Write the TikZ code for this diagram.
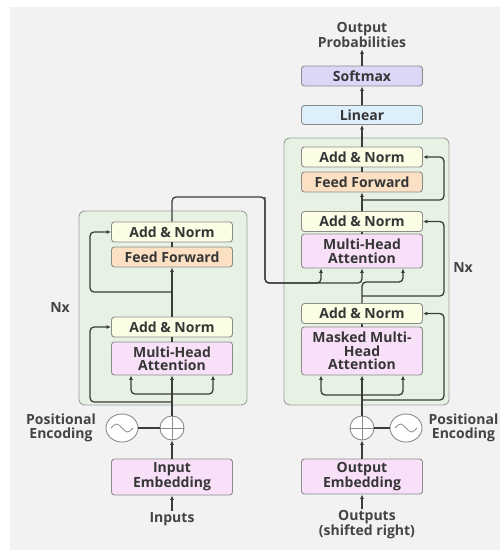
\documentclass[tikz,border=0pt]{standalone}
\usepackage{fontspec}
\setmainfont{Open Sans}
\usetikzlibrary{arrows.meta,shapes.geometric,calc}
\definecolor{bgc}{HTML}{F2F2F2}
\definecolor{grpf}{HTML}{E8F2E4}
\definecolor{grpd}{HTML}{9AA49A}
\definecolor{boxb}{HTML}{8C8C8C}
\definecolor{anf}{HTML}{FBFDE4}
\definecolor{fff}{HTML}{FBE0C4}
\definecolor{mhf}{HTML}{F7E0F8}
\definecolor{linf}{HTML}{DCEFFB}
\definecolor{smf}{HTML}{DDD6F7}
\definecolor{txt}{HTML}{363636}
\definecolor{lblc}{HTML}{444444}
\definecolor{lnc}{HTML}{3A3E3A}
\begin{document}
\begin{tikzpicture}[x=1pt,y=-1pt,
  blk/.style={draw=boxb, rounded corners=3pt, line width=0.9pt, minimum width=121pt, inner sep=0pt, align=center, font=\fontsize{14}{13.5}\selectfont\bfseries, text=txt},
  an/.style={blk, fill=anf, minimum height=20pt},
  ffb/.style={blk, fill=fff, minimum height=20pt},
  mh/.style={blk, fill=mhf},
  grp/.style={draw=grpd, fill=grpf, rounded corners=6pt, line width=0.9pt},
  arr/.style={-{Latex[length=4.5pt,width=4pt]}, draw=lnc, line width=1.3pt},
  ln/.style={draw=lnc, line width=1.3pt},
  rc/.style={rounded corners=4pt},
  lbl/.style={font=\fontsize{14}{13.5}\selectfont\bfseries, text=lblc, align=center, inner sep=1.5pt},
  plusc/.style={circle, draw=boxb, fill=white, line width=0.9pt, minimum size=24pt, inner sep=0pt},
  sinc/.style={ellipse, draw=boxb, fill=white, line width=0.9pt, minimum width=32pt, minimum height=28pt, inner sep=0pt},
]
\useasboundingbox (0,0) rectangle (500,550);
\fill[white] (0,0) rectangle (500,550);
\fill[bgc] (10,7) rectangle (500,550);

% groups
\draw[grp] (79,211) rectangle (247,405);
\draw[grp] (284,138) rectangle (449,405);

% encoder
\node[an] (eAN2) at (172,232) {Add \& Norm};
\node[ffb] (eFF) at (172,257) {Feed Forward};
\node[an] (eAN1) at (172,327) {Add \& Norm};
\node[mh, minimum height=33pt] (eMHA) at (172,358.5) {Multi-Head\\Attention};
\node[mh, minimum height=36pt] (eEmb) at (172,477) {Input\\Embedding};
\node[plusc] (ePlus) at (172,428) {};
\node[sinc] (eSin) at (122,428) {};
\node[lbl] (inputs) at (172,519) {Inputs};
\node[lbl] (ePE) at (61,428) {Positional\\Encoding};
\node[lbl] (eNx) at (60,307) {Nx};

% decoder
\node[an] (dAN3) at (362,157) {Add \& Norm};
\node[ffb] (dFF) at (362,182) {Feed Forward};
\node[an] (dAN2) at (362,221.5) {Add \& Norm};
\node[mh, minimum height=34pt] (dMHA) at (362,251) {Multi-Head\\Attention};
\node[an] (dAN1) at (362,313.5) {Add \& Norm};
\node[mh, minimum height=48pt] (dMMHA) at (362,351) {Masked Multi-\\Head\\Attention};
\node[mh, minimum height=35pt] (dEmb) at (362,476.5) {Output\\Embedding};
\node[plusc] (dPlus) at (362,428) {};
\node[sinc] (dSin) at (406,428) {};
\node[lbl] (outputs) at (367,525) {Outputs\\(shifted right)};
\node[lbl, anchor=west] (dPE) at (427,428) {Positional\\Encoding};
\node[lbl] (dNx) at (463,267) {Nx};

% top
\node[blk, fill=linf, minimum height=19pt] (lin) at (362,115) {Linear};
\node[blk, fill=smf, minimum height=20pt] (soft) at (362,76) {Softmax};
\node[lbl] (prob) at (362,35) {Output\\Probabilities};

% plus and sine symbols
\foreach \p in {ePlus,dPlus}{
  \draw[boxb, line width=0.9pt] (\p.north) -- (\p.south) (\p.west) -- (\p.east);
}
\foreach \s in {eSin,dSin}{
  \draw[boxb, line width=0.8pt] ($(\s.center)+(-11,0)$) sin ($(\s.center)+(-5.5,-4)$) cos (\s.center) sin ($(\s.center)+(5.5,4)$) cos ($(\s.center)+(11,0)$);
}

% coordinates
\coordinate (eIn) at (172,394);
\coordinate (eOut) at (172,402);
\coordinate (eRes2) at (172,292);
\coordinate (cA) at (265,197);
\coordinate (cB) at (265,283);
\coordinate (dIn) at (362,395);
\coordinate (dOut) at (362,400);
\coordinate (dQ) at (403,282);
\coordinate (dRes2) at (362,296);
\coordinate (dRes3) at (362,200);

% encoder connectors
\draw[arr] (inputs.north) -- (eEmb.south);
\draw[arr] (eEmb.north) -- (ePlus.south);
\draw[ln] (eSin.east) -- (ePlus.west);
\draw[arr] (ePlus.north) -- (eMHA.south);
\draw[arr,rc] (eIn) -| ([xshift=-41pt]eMHA.south);
\draw[arr,rc] (eIn) -| ([xshift=41pt]eMHA.south);
\draw[arr,rc] (eOut) -| ($(eAN1.west)+(-21,0)$) -- (eAN1.west);
\draw[ln] (eMHA.north) -- (eAN1.south);
\draw[arr] (eAN1.north) -- (eFF.south);
\draw[arr,rc] (eRes2) -| ($(eAN2.west)+(-21,0)$) -- (eAN2.west);
\draw[ln] (eFF.north) -- (eAN2.south);

% encoder to decoder
\draw[arr,rc] (eAN2.north) |- (cA) -- (cB) -| ([xshift=-41pt]dMHA.south);
\draw[arr,rc] (cA) -- (cB) -| (dMHA.south);

% decoder connectors
\draw[arr] (outputs.north -| dEmb.south) -- (dEmb.south);
\draw[arr] (dEmb.north) -- (dPlus.south);
\draw[ln] (dSin.west) -- (dPlus.east);
\draw[arr] (dPlus.north) -- (dMMHA.south);
\draw[arr,rc] (dIn) -| ([xshift=-41pt]dMMHA.south);
\draw[arr,rc] (dIn) -| ([xshift=41pt]dMMHA.south);
\draw[arr,rc] (dOut) -| ($(dAN1.east)+(21,0)$) -- (dAN1.east);
\draw[ln] (dMMHA.north) -- (dAN1.south);
\draw[arr,rc] (dAN1.north) |- (dQ) -- ([xshift=41pt]dMHA.south);
\draw[arr,rc] (dRes2) -| ($(dAN2.east)+(21,0)$) -- (dAN2.east);
\draw[ln] (dMHA.north) -- (dAN2.south);
\draw[arr] (dAN2.north) -- (dFF.south);
\draw[arr,rc] (dRes3) -| ($(dAN3.east)+(21,0)$) -- (dAN3.east);
\draw[ln] (dFF.north) -- (dAN3.south);
\draw[arr] (dAN3.north) -- (lin.south);
\draw[arr] (lin.north) -- (soft.south);
\draw[arr] (soft.north) -- (prob.south);
\end{tikzpicture}
\end{document}
